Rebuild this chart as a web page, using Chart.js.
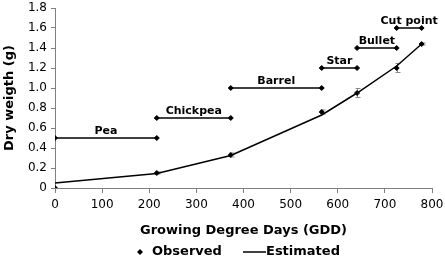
<!DOCTYPE html>
<html>
<head>
<meta charset="utf-8">
<script src="https://cdn.jsdelivr.net/npm/chart.js@4"></script>
<style>
  html, body { margin: 0; padding: 0; background: #fff; }
  #wrap { width: 445px; height: 260px; }
</style>
</head>
<body>
<div id="wrap"><canvas id="chart" width="445" height="260"></canvas></div>
<script>
// observed dry weight at each sampled GDD
const gdd = [0, 216, 373, 566, 641, 725, 778];
const observed = [0, 0.15, 0.33, 0.76, 0.95, 1.2, 1.44];
const obsError = [0, 0.01, 0.02, 0.02, 0.045, 0.045, 0.01];
const estimated = [0.05, 0.145, 0.325, 0.73, 0.95, 1.22, 1.44];

// pod development stages
const stageNames = ["Pea", "Chickpea", "Barrel", "Star", "Bullet", "Cut point"];
const stageStart = [0, 216, 373, 566, 641, 725];
const stageEnd = [216, 373, 566, 641, 725, 778];
const stageLevel = [0.5, 0.7, 1.0, 1.2, 1.4, 1.6];

const yTicks = [0, 0.2, 0.4, 0.6, 0.8, 1, 1.2, 1.4, 1.6, 1.8];

const FONT = "'DejaVu Sans', Verdana, sans-serif";

const stageSets = stageNames.map((name, i) => ({
  label: name,
  type: "line",
  data: [{ x: stageStart[i], y: stageLevel[i] }, { x: stageEnd[i], y: stageLevel[i] }],
  borderColor: "#000",
  backgroundColor: "#000",
  borderWidth: 1.5,
  pointStyle: "rectRot",
  pointRadius: 2.5,
  pointBorderWidth: 1,
  showLine: true,
}));

// error bars (behind the marks), stage names and legend
const extras = {
  id: "extras",
  beforeDatasetsDraw(chart) {
    const { ctx, scales: { x, y } } = chart;
    ctx.save();
    ctx.strokeStyle = "#8a8a8a";
    ctx.lineWidth = 1;
    gdd.forEach((g, i) => {
      if (!obsError[i]) return;
      const px = Math.round(x.getPixelForValue(g)) + 0.5;
      const top = y.getPixelForValue(observed[i] + obsError[i]);
      const bot = y.getPixelForValue(observed[i] - obsError[i]);
      ctx.beginPath();
      ctx.moveTo(px, top); ctx.lineTo(px, bot);
      ctx.moveTo(px - 2, top); ctx.lineTo(px + 3, top);
      ctx.moveTo(px - 2, bot); ctx.lineTo(px + 3, bot);
      ctx.stroke();
    });
    ctx.restore();
  },
  afterDatasetsDraw(chart) {
    const { ctx, scales: { x, y } } = chart;
    ctx.save();
    ctx.fillStyle = "#000";
    ctx.font = "bold 11px " + FONT;
    ctx.textAlign = "center";
    ctx.textBaseline = "alphabetic";
    stageNames.forEach((name, i) => {
      const cx = x.getPixelForValue((stageStart[i] + stageEnd[i]) / 2);
      ctx.fillText(name, cx, y.getPixelForValue(stageLevel[i]) - 4);
    });
    ctx.restore();
  },
  afterDraw(chart) {
    const { ctx } = chart;
    const ly = 252;
    ctx.save();
    ctx.fillStyle = "#000";
    ctx.strokeStyle = "#000";
    ctx.beginPath();
    ctx.moveTo(140, ly - 3); ctx.lineTo(143, ly); ctx.lineTo(140, ly + 3); ctx.lineTo(137, ly);
    ctx.closePath();
    ctx.fill();
    ctx.font = "bold 13px " + FONT;
    ctx.textBaseline = "middle";
    ctx.textAlign = "left";
    ctx.fillText("Observed", 152, ly);
    ctx.lineWidth = 1.5;
    ctx.beginPath();
    ctx.moveTo(243, ly); ctx.lineTo(266, ly);
    ctx.stroke();
    ctx.fillText("Estimated", 266, ly);
    ctx.restore();
  }
};

new Chart(document.getElementById("chart"), {
  type: "scatter",
  data: {
    datasets: [
      {
        label: "Observed",
        data: gdd.map((g, i) => ({ x: g, y: observed[i] })),
        backgroundColor: "#000",
        borderColor: "#000",
        pointStyle: "rectRot",
        pointRadius: 2.5,
        pointBorderWidth: 1,
        showLine: false,
      },
      {
        label: "Estimated",
        type: "line",
        data: gdd.map((g, i) => ({ x: g, y: estimated[i] })),
        borderColor: "#000",
        borderWidth: 1.5,
        pointRadius: 0,
        tension: 0,
      },
      ...stageSets,
    ],
  },
  options: {
    responsive: false,
    animation: false,
    layout: { padding: { left: 0, right: 13, top: 8, bottom: 20 } },
    plugins: {
      legend: { display: false },
      tooltip: { enabled: false },
    },
    scales: {
      x: {
        type: "linear",
        min: 0,
        max: 800,
        afterFit: (s) => { s.height = 52; s.paddingRight = 0; s.paddingLeft = 0; },
        ticks: { stepSize: 100, color: "#000", padding: 5, font: { family: FONT, size: 12 } },
        grid: { drawOnChartArea: false, tickLength: 5, color: "#808080" },
        border: { color: "#808080" },
        title: {
          display: true,
          text: "Growing Degree Days (GDD)",
          color: "#000",
          font: { family: FONT, size: 13, weight: "bold" },
          padding: { top: 0, bottom: 2 },
        },
      },
      y: {
        min: 0,
        max: 1.8,
        afterFit: (s) => { s.width = 55; s.paddingTop = 0; s.paddingBottom = 0; },
        afterBuildTicks: (s) => { s.ticks = yTicks.map((v) => ({ value: v })); },
        ticks: { color: "#000", padding: 4, font: { family: FONT, size: 12 } },
        grid: { drawOnChartArea: false, tickLength: 4, color: "#808080" },
        border: { color: "#808080" },
        title: {
          display: true,
          text: "Dry weigth (g)",
          color: "#000",
          font: { family: FONT, size: 13, weight: "bold" },
          padding: { top: 2, bottom: 0 },
        },
      },
    },
  },
  plugins: [extras],
});
</script>
</body>
</html>
